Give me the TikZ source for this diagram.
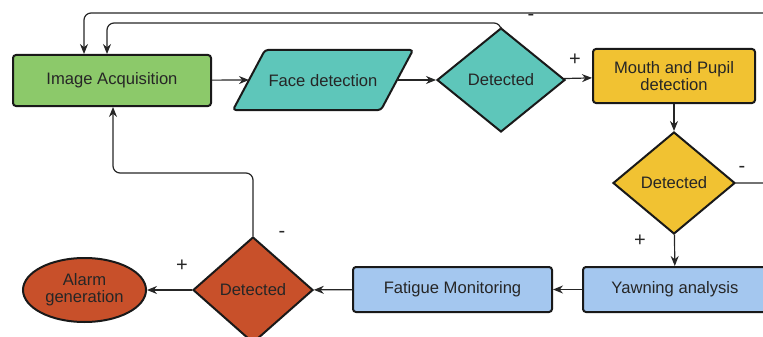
\documentclass[tikz,border=0pt]{standalone}
\usepackage{fontspec}
\setmainfont{Liberation Sans}
\usetikzlibrary{shapes.geometric,arrows.meta}
\definecolor{cgreen}{HTML}{8CC96A}
\definecolor{cteal}{HTML}{5EC6BA}
\definecolor{cyellow}{HTML}{F1C232}
\definecolor{cblue}{HTML}{A4C7EF}
\definecolor{cred}{HTML}{C8502A}
\definecolor{ink}{HTML}{262626}
\begin{document}
\begin{tikzpicture}[x=1pt,y=-1pt,
  every node/.style={font=\fontsize{16.6}{18}\selectfont, text=ink},
  block/.style={draw=black!90, line width=2pt, rounded corners=3pt, align=center},
  decision/.style={diamond, draw=black!90, line width=2pt, align=center},
  flow/.style={line width=1.2pt, draw=black!85, rounded corners=7pt, -{Stealth[length=10pt,width=8pt]}},
  sign/.style={font=\fontsize{20}{20}\selectfont}]
\useasboundingbox (0,0) rectangle (763,337);
\clip (0,0) rectangle (763,337);

% process blocks
\node[block, fill=cgreen, minimum width=198, minimum height=51] (acq) at (112,80.5) {Image Acquisition};
\node[block, fill=cyellow, minimum width=162, minimum height=54] (mouth) at (674,76) {Mouth and Pupil\\[-1pt]detection};
\node[block, fill=cblue, minimum width=184, minimum height=45] (yawn) at (675,289.5) {Yawning analysis};
\node[block, fill=cblue, minimum width=199, minimum height=45] (fat) at (452.5,289.5) {Fatigue Monitoring};

% face detection (parallelogram)
\draw[line width=2pt, draw=black!90, fill=cteal, rounded corners=3pt]
  (233,110) -- (265,50) -- (413,50) -- (381,110) -- cycle;
\node (face) at (323,81) {Face detection};
\coordinate (faceL) at (249,80);
\coordinate (faceR) at (397,80);

% decisions
\node[decision, fill=cteal, minimum width=128, minimum height=104] (det1) at (501,80) {Detected};
\node[decision, fill=cyellow, minimum width=122, minimum height=102] (det2) at (674,183) {Detected};
\node[decision, fill=cred, minimum width=120, minimum height=106] (det3) at (253,290) {Detected};

% alarm
\node[ellipse, draw=black!90, line width=2pt, fill=cred, align=center,
      minimum width=123, minimum height=64] (alarm) at (84.5,290) {Alarm\\[-1pt]generation};

% main flow
\draw[flow] (acq) -- (faceL);
\draw[flow] (faceR) -- (det1);
\draw[flow] (det1) -- (mouth);
\draw[flow] (mouth) -- (det2);
\draw[flow] (det2) -- (yawn);
\draw[flow] (yawn) -- (fat);
\draw[flow] (fat) -- (det3);
\draw[flow] (det3) -- (alarm);

% feedback loops
\coordinate (k0) at (84,13);
\coordinate (k1) at (107,23);
\coordinate (k2) at (795,183);
\coordinate (k3) at (113,173);
\draw[flow] (det1.north) |- (k1) -- (k1 |- acq.north);
\draw[flow] (det2.east) -- (k2) |- (k0) -- (k0 |- acq.north);
\draw[flow] (det3.north) |- (k3) -- (k3 |- acq.south);

% branch signs
\node[sign] (s1) at (531,17) {-};
\node[sign] (s2) at (575,60) {+};
\node[sign] (s3) at (742,169) {-};
\node[sign] (s4) at (640,241) {+};
\node[sign] (s5) at (282,234) {-};
\node[sign] (s6) at (182,266) {+};
\end{tikzpicture}
\end{document}
